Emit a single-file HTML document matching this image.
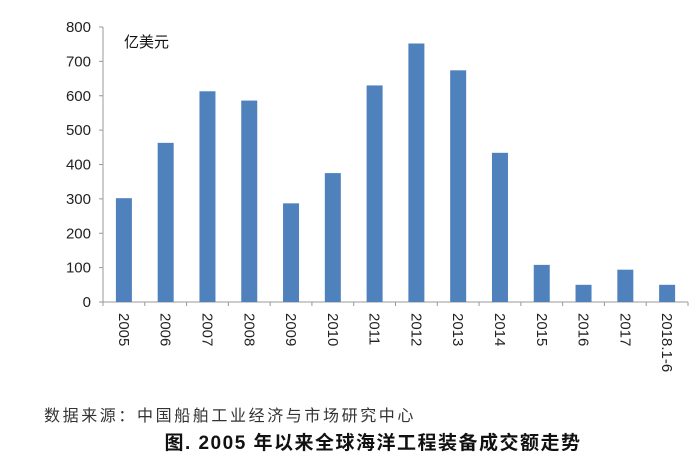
<!DOCTYPE html>
<html><head><meta charset="utf-8"><style>
body{margin:0;background:#fff;}
svg text{font-family:"Liberation Sans","Noto Sans CJK SC",sans-serif;}
</style></head><body>
<svg width="700" height="471" xmlns="http://www.w3.org/2000/svg">
<g id="plot"></g>
<text x="124" y="47" font-size="15" fill="#111">亿美元</text>
<text x="44" y="421" font-size="16" fill="#333" letter-spacing="2.6" font-family="'Noto Sans CJK SC',sans-serif">数据来源：中国船舶工业经济与市场研究中心</text>
<text x="373" y="449" font-size="19" font-weight="bold" fill="#111" text-anchor="middle" letter-spacing="1.5">图. 2005 年以来全球海洋工程装备成交额走势</text>
</svg>
<script>
const categories=["2005","2006","2007","2008","2009","2010","2011","2012","2013","2014","2015","2016","2017","2018.1-6"];
const values=[302,463,613,586,287,375,630,752,674,434,108,50,94,50];
const yTicks=[0,100,200,300,400,500,600,700,800];
const NS="http://www.w3.org/2000/svg";
const g=document.getElementById('plot');
const x0=103,x1=688,yTop=27,yBot=302,yMax=800;
const bw=(x1-x0)/categories.length;
const y=v=>yBot-(v/yMax)*(yBot-yTop);
const xc=i=>x0+bw*(i+0.5);
function mk(t,a){const e=document.createElementNS(NS,t);for(const k in a)e.setAttribute(k,a[k]);g.appendChild(e);return e;}
let e;
e=mk('line',{x1:x0,y1:yTop,x2:x0,y2:yBot,stroke:'#999','stroke-width':1});


e=mk('line',{x1:x0,y1:yBot,x2:x1,y2:yBot,stroke:'#999','stroke-width':1});


yTicks.forEach(t=>{
 e=mk('line',{x1:x0-4,y1:y(t),x2:x0,y2:y(t),stroke:'#999'});
 
 
 e=mk('text',{x:x0-12,y:y(t)+5,'text-anchor':'end','font-size':15,fill:'#222'});
 e.textContent=t;
 
 
});
for(let i=0;i<=categories.length;i++){
 e=mk('line',{x1:x0+bw*i,y1:yBot,x2:x0+bw*i,y2:yBot+4,stroke:'#999'});
 
 
}
categories.forEach((c,i)=>{
 e=mk('rect',{x:xc(i)-8,y:y(values[i]),width:16,height:yBot-y(values[i]),fill:'#4f81bd'});
 
 
 const tx=xc(i)-5,ty=313;
 e=mk('text',{x:tx,y:ty,transform:`rotate(90 ${tx} ${ty})`,'font-size':15,fill:'#222','font-family':'Liberation Serif,serif'});
 e.textContent=c;
 
 
});
</script>
</body></html>
